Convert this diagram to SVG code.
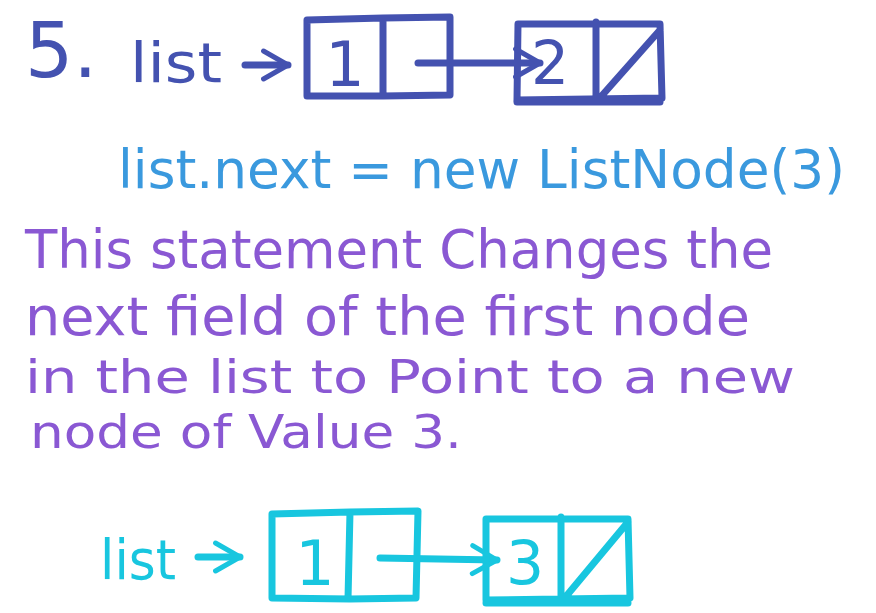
<svg xmlns="http://www.w3.org/2000/svg" width="876" height="613" viewBox="0 0 876 613">
<style>
.s{fill:none;stroke-width:7;stroke-linecap:round;stroke-linejoin:round}
.db{stroke:#4452b0}.cy{stroke:#18c6df}
.t{font-family:"DejaVu Sans","Liberation Sans",sans-serif}
.tdb{fill:#4452b0}.tlb{fill:#3a99de}.tp{fill:#8a58d3}.tcy{fill:#18c6df}
</style>
<defs>
<marker id="ah" viewBox="0 0 10 10" refX="8" refY="5" markerWidth="5" markerHeight="5" orient="auto" markerUnits="strokeWidth">
<path d="M1,1 L8,5 L1,9" fill="none" stroke="context-stroke" stroke-width="1.4" stroke-linecap="round" stroke-linejoin="round"/>
</marker>
</defs>
<rect width="876" height="613" fill="#ffffff"/>

<g id="title">
<text class="t tdb" x="25" y="77" font-size="76">5.</text>
<text class="t tdb" x="130" y="82" font-size="56" textLength="92" lengthAdjust="spacingAndGlyphs">list</text>
</g>

<g id="node1-top">
<path class="s db" d="M307,20 L383,18 L450,17 L450,95 L383,96 L307,96 Z M383,18 L383,96"/>
<text class="t tdb" x="345" y="86" font-size="62" text-anchor="middle">1</text>
</g>
<g id="node2-top">
<path class="s db" d="M518,24 L660,24 L662,98 L517,100 Z M596,22 L596,100 M598,100 L660,30"/>
<line class="s db" x1="517" y1="102" x2="660" y2="102"/>
<text class="t tdb" x="550" y="84" font-size="60" text-anchor="middle">2</text>
</g>

<g id="code">
<text class="t tlb" x="118" y="188" font-size="54" textLength="727" lengthAdjust="spacingAndGlyphs">list.next = new ListNode(3)</text>
</g>

<g id="explanation">
<text class="t tp" x="25" y="268" font-size="54" textLength="748" lengthAdjust="spacingAndGlyphs">This statement Changes the</text>
<text class="t tp" x="25" y="335" font-size="54" textLength="725" lengthAdjust="spacingAndGlyphs">next field of the first node</text>
<text class="t tp" x="25" y="393" font-size="46" textLength="770" lengthAdjust="spacingAndGlyphs">in the list to Point to a new</text>
<text class="t tp" x="30" y="448" font-size="46" textLength="432" lengthAdjust="spacingAndGlyphs">node of Value 3.</text>
</g>

<g id="bottom-label">
<text class="t tcy" x="100" y="579" font-size="56" textLength="76" lengthAdjust="spacingAndGlyphs">list</text>
</g>
<g id="node1-bottom">
<path class="s cy" d="M272,514 L350,512 L418,511 L416,598 L350,599 L272,598 Z M350,512 L348,599"/>
<text class="t tcy" x="315" y="585" font-size="62" text-anchor="middle">1</text>
</g>
<g id="node3-bottom">
<path class="s cy" d="M486,519 L628,519 L630,598 L486,600 Z M561,517 L561,601 M563,600 L628,522"/>
<line class="s cy" x1="486" y1="603" x2="628" y2="603"/>
<text class="t tcy" x="525" y="584" font-size="60" text-anchor="middle">3</text>
</g>

<g id="connectors">
<line class="s db" x1="245" y1="65" x2="288" y2="65" marker-end="url(#ah)"/>
<line class="s db" x1="418" y1="63" x2="540" y2="63" marker-end="url(#ah)"/>
<line class="s cy" x1="198" y1="557" x2="240" y2="557" marker-end="url(#ah)"/>
<line class="s cy" x1="380" y1="558" x2="497" y2="560" marker-end="url(#ah)"/>
</g>
</svg>
